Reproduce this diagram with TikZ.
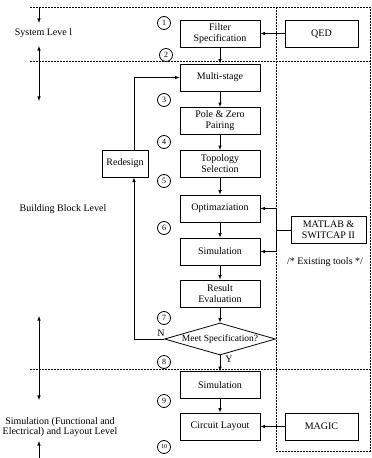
\documentclass[tikz,border=0pt]{standalone}
\usepackage{fontspec}
\setmainfont{Liberation Serif}
\usepackage{tikz}
\usetikzlibrary{arrows}
\usetikzlibrary{shapes,shapes.geometric}
\usetikzlibrary{calc}
\tikzstyle{stepbox} = [rectangle,draw,line width=.8pt,minimum width=80pt,minimum height=27pt,align=center,inner sep=1pt,font=\fontsize{10}{11}\selectfont]
\tikzstyle{toolbox} = [stepbox,minimum width=73pt]
\tikzstyle{numcirc} = [circle,draw,line width=.8pt,inner sep=0pt,minimum size=13pt,font=\fontsize{8}{8}\selectfont]
\tikzstyle{levelline} = [dash pattern=on 2pt off 1pt,line width=.6pt]
\tikzstyle{flow} = [-latex,line width=.6pt]
\tikzstyle{leveltext} = [align=center,font=\fontsize{10}{10}\selectfont]

\begin{document}
\begin{tikzpicture}[x=1pt,y=-1pt]
	\useasboundingbox (0,0) rectangle (372,458);
	% level separators and tool area
	\draw[levelline] (30,7) -- (370,7);
	\draw[levelline] (30,61) -- (370,61);
	\draw[levelline] (30,369) -- (370,369);
	\draw[levelline] (276,7) -- (276,451) -- (370,451) -- (370,7);
	% flow steps
	\node[stepbox] (filt) at (220,33.5) {Filter\\Specification};
	\node[stepbox] (multi) at (220,77.5) {Multi-stage};
	\node[stepbox] (pole) at (220,121) {Pole \& Zero\\Pairing};
	\node[stepbox] (topo) at (220,164) {Topology\\Selection};
	\node[stepbox] (optim) at (220,208.5) {Optimaziation};
	\node[stepbox] (sim) at (220,251.5) {Simulation};
	\node[stepbox] (result) at (220,293.5) {Result\\Evaluation};
	\node[diamond,draw,fill=white,line width=.8pt,aspect=3.47,minimum width=111pt,minimum height=32pt,inner sep=0pt,font=\fontsize{9.5}{10}\selectfont] (meet) at (220,339) {Meet Specification?};
	\node[stepbox] (simb) at (220,385) {Simulation};
	\node[stepbox] (layout) at (220,426.5) {Circuit Layout};
	\node[stepbox,minimum width=46pt] (redesign) at (125,163.5) {Redesign};
	% tools
	\node[toolbox] (qed) at (321.5,33.5) {QED};
	\node[toolbox,minimum width=75pt] (matlab) at (328.5,230) {MATLAB \&\\SWITCAP II};
	\node[toolbox] (magic) at (321.5,426.5) {MAGIC};
	\coordinate (tap) at (276,230);
	% step numbers
	\node[numcirc] (n1) at (164,23) {1};
	\node[numcirc] (n2) at (166,55) {2};
	\node[numcirc] (n3) at (164,100) {3};
	\node[numcirc] (n4) at (164,142) {4};
	\node[numcirc] (n5) at (164,181) {5};
	\node[numcirc] (n6) at (164,228) {6};
	\node[numcirc] (n7) at (164,318) {7};
	\node[numcirc] (n8) at (164,362) {8};
	\node[numcirc] (n9) at (164,401) {9};
	\node[numcirc,font=\fontsize{6}{6}\selectfont] (n10) at (164,447) {10};
	% connections
	\draw[flow] (filt) -- (multi);
	\draw[flow] (multi) -- (pole);
	\draw[flow] (pole) -- (topo);
	\draw[flow] (topo) -- (optim);
	\draw[flow] (optim) -- (sim);
	\draw[flow] (sim) -- (result);
	\draw[flow] (result) -- (meet);
	\draw[flow] (meet) -- (simb);
	\draw[flow] (simb) -- (layout);
	\draw[flow] (meet.west) -| ([xshift=9pt]redesign.south);
	\draw[flow] ([xshift=9pt]redesign.north) |- (multi.west);
	\draw[flow] (qed) -- (filt);
	\draw[flow] (magic) -- (layout);
	\draw[line width=.6pt] (matlab.west) -- (tap);
	\draw[flow] (tap) |- (optim.east);
	\draw[flow] (tap) |- (sim.east);
	\node[font=\fontsize{10}{10}\selectfont] at (161,333) {N};
	\node[font=\fontsize{10}{10}\selectfont] at (229,359) {Y};
	% levels
	\draw[flow] (39,7) -- (39,23);
	\draw[flow] (39,61) -- (39,46);
	\draw[flow] (39,61) -- (39,101);
	\draw[flow] (39,369) -- (39,316);
	\draw[flow] (39,369) -- (39,400);
	\draw[flow] (39,458) -- (39,441);
	\node[leveltext] (lsys) at (43.5,33) {System Leve l};
	\node[leveltext] (lbb) at (63,209) {Building Block Level};
	\node[leveltext] (lsim) at (60,427) {Simulation (Functional and\\Electrical) and Layout  Level};
	\node[leveltext] (ltools) at (325,262) {/* Existing tools */};
\end{tikzpicture}
\end{document}
